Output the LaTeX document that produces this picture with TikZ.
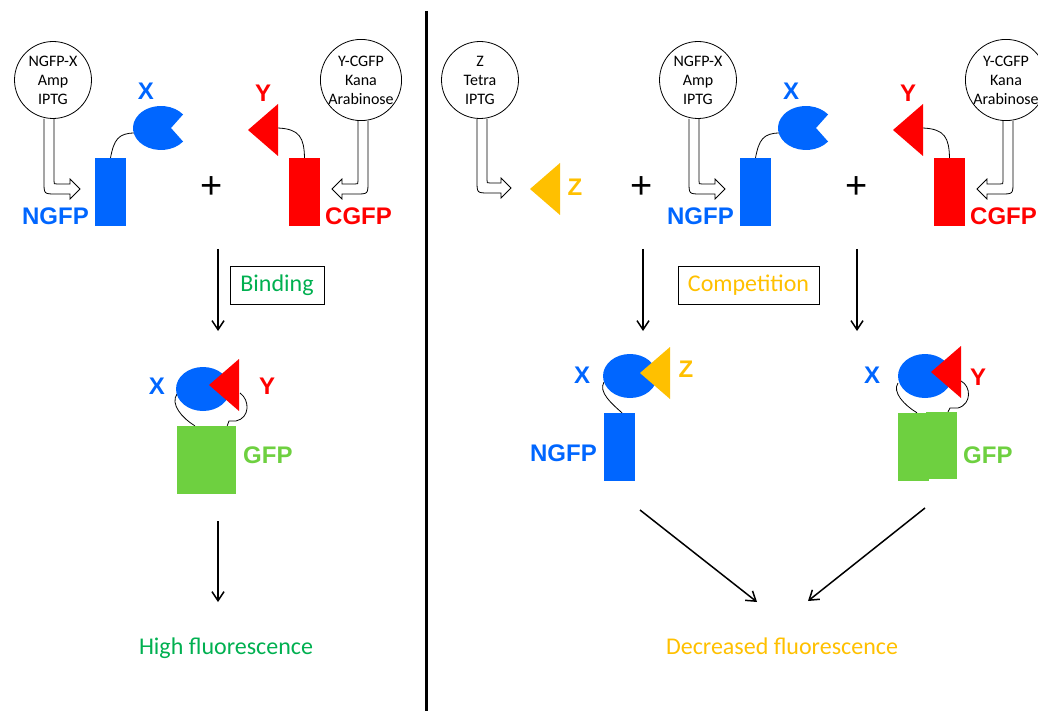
\documentclass[tikz,border=0pt]{standalone}
\usepackage{fontspec}
\setmainfont{Carlito}
\newfontfamily\tagfont{Liberation Sans}
\usepackage{xcolor}
\usepackage{tikz}
\usetikzlibrary{calc}
\usetikzlibrary{arrows.meta}
\definecolor{protblue}{RGB}{0,102,255}
\definecolor{protred}{RGB}{255,0,0}
\definecolor{protyellow}{RGB}{255,192,0}
\definecolor{gfpgreen}{RGB}{110,208,64}
\definecolor{textgreen}{RGB}{0,176,80}
\tikzset{ plasmid/.style = {circle, draw, line width=0.8pt, minimum size=77pt, inner sep=0pt, align=center, font=\fontsize{16}{19}\selectfont} }
\tikzset{ tag/.style = {inner sep=0pt, font=\tagfont\bfseries\fontsize{24}{28}\selectfont} }
\tikzset{ sum/.style = {inner sep=0pt, font=\tagfont\fontsize{38}{40}\selectfont} }
\tikzset{ half/.style = {rectangle, inner sep=0pt, minimum width=31pt, minimum height=68pt} }
\tikzset{ stage/.style = {rectangle, draw, line width=0.8pt, minimum height=38pt, font=\fontsize{24}{28}\selectfont} }
\tikzset{ tether/.style = {line width=0.8pt} }
\tikzset{ flow/.style = {->, line width=1.5pt} }
\tikzset{ >={Straight Barb[length=9pt,width=12pt]} }
\tikzset{ pacman/.pic = {\fill[protblue] (10,0) -- (22.06,13.55) arc[start angle=38, end angle=322, x radius=28, y radius=22] -- cycle;} }
\tikzset{ wedge/.pic = {\fill (0,0) -- (30,-26) -- (30,26) -- cycle;} }
\newcommand{\feedarrow}[3]{%
\draw[tether] let \p1=(#1), \p2=(#2) in
 ({\x1-(#3)*5pt},\y1) -- ({\x1-(#3)*5pt},{\y2+7pt})
 .. controls ({\x1-(#3)*5pt},{\y2-5pt}) .. ({\x1+(#3)*7pt},{\y2-5pt})
 -- ({\x2-(#3)*10pt},{\y2-5pt}) -- ({\x2-(#3)*10pt},{\y2-10pt}) -- (\x2,\y2)
 -- ({\x2-(#3)*10pt},{\y2+10pt}) -- ({\x2-(#3)*10pt},{\y2+5pt})
 -- ({\x1+(#3)*8pt},{\y2+5pt}) .. controls ({\x1+(#3)*5pt},{\y2+5pt}) .. ({\x1+(#3)*5pt},{\y2+8pt})
 -- ({\x1+(#3)*5pt},\y1);}

\begin{document}
\begin{tikzpicture}[x=1pt,y=-1pt]
\useasboundingbox (0,0) rectangle (1038,711);
\clip (0,0) rectangle (1038,711);

\draw[line width=3pt] (426,11) -- (426,711);

% binding
\node[plasmid] (pA) at (53,80) {NGFP-X\\Amp\\IPTG};
\node[plasmid] (pB) at (361,80) {Y-CGFP\\Kana\\Arabinose};
\coordinate (tA) at (80,189);
\coordinate (tB) at (332,189);
\feedarrow{$(pA.south)+(-4,0)$}{tA}{1}
\feedarrow{$(pB.south)+(2,0)$}{tB}{-1}
\node[half, fill=protblue] (nA) at (110.5,192) {};
\node[half, fill=protred] (cA) at (304.5,192) {};
\coordinate (xA) at (161,128);
\coordinate (yA) at (248,130);
\draw[tether] (nA.north) .. controls (114,140) and (118,133) .. ($(xA)+(-26,5)$);
\draw[tether] (cA.north) .. controls (304,138) and (300,129) .. ($(yA)+(30,-2)$);
\pic at (xA) {pacman};
\pic[protred] at (yA) {wedge};
\node[tag, protblue, anchor=base east] (lnA) at (89,225) {NGFP};
\node[tag, protred, anchor=base west] (lcA) at (325,225) {CGFP};
\node[tag, protblue] (lxA) at (146,91) {X};
\node[tag, protred] (lyA) at (263,93) {Y};
\node[sum] (plusA) at (212,188) {+};

\coordinate (aA1) at (218,249);
\coordinate (aA2) at (218,331);
\draw[flow] (aA1) -- (aA2);
\node[stage, text=textgreen, minimum width=94pt] (bind) at (277,285) {Binding};

\node[half, fill=gfpgreen, minimum width=59pt] (gA) at (206.5,460) {};
\coordinate (cxA) at (203,389);
\coordinate (cyA) at (209,385);
\draw[tether] ($(gA.north west)+(18,0)$) .. controls (182,418) and (170,404) .. (177,394);
\draw[tether] ($(gA.north east)+(-9,0)$) -- (229,421) -- (236,421) .. controls (250,418) and (250,400) .. (240,393);
\fill[protblue] (cxA) ellipse [x radius=27, y radius=22];
\pic[protred] at (cyA) {wedge};
\node[tag, protblue] (lxB) at (157,386) {X};
\node[tag, protred] (lyB) at (267,386) {Y};
\node[tag, gfpgreen, anchor=west] (lgA) at (243,455) {GFP};

\coordinate (aB1) at (218,521);
\coordinate (aB2) at (218,602);
\draw[flow] (aB1) -- (aB2);
\node[font=\fontsize{24}{28}\selectfont, text=textgreen, anchor=base] (high) at (226,654) {High fluorescence};

% competition
\node[plasmid] (pZ) at (480,80) {Z\\Tetra\\IPTG};
\node[plasmid] (pA2) at (698,80) {NGFP-X\\Amp\\IPTG};
\node[plasmid] (pB2) at (1006,80) {Y-CGFP\\Kana\\Arabinose};
\coordinate (tZ) at (511,188);
\coordinate (tA2) at (725,189);
\coordinate (tB2) at (977,189);
\feedarrow{$(pZ.south)+(2,0)$}{tZ}{1}
\feedarrow{$(pA2.south)+(-4,0)$}{tA2}{1}
\feedarrow{$(pB2.south)+(2,0)$}{tB2}{-1}

\coordinate (zA) at (530,189);
\pic[protyellow] at (zA) {wedge};
\node[tag, protyellow] (lzA) at (575,187) {Z};
\node[sum] (plusB) at (642,188) {+};

\node[half, fill=protblue] (nA2) at (755.5,192) {};
\node[half, fill=protred] (cA2) at (949.5,192) {};
\coordinate (xA2) at (806,128);
\coordinate (yA2) at (893,130);
\draw[tether] (nA2.north) .. controls (759,140) and (763,133) .. ($(xA2)+(-26,5)$);
\draw[tether] (cA2.north) .. controls (949,138) and (945,129) .. ($(yA2)+(30,-2)$);
\pic at (xA2) {pacman};
\pic[protred] at (yA2) {wedge};
\node[tag, protblue, anchor=base east] (lnA2) at (734,225) {NGFP};
\node[tag, protred, anchor=base west] (lcA2) at (970,225) {CGFP};
\node[tag, protblue] (lxA2) at (791,91) {X};
\node[tag, protred] (lyA2) at (908,93) {Y};
\node[sum] (plusC) at (857,188) {+};

\coordinate (aC1) at (643,249);
\coordinate (aC2) at (643,331);
\coordinate (aD1) at (857,249);
\coordinate (aD2) at (857,331);
\draw[flow] (aC1) -- (aC2);
\draw[flow] (aD1) -- (aD2);
\node[stage, text=protyellow, minimum width=141pt] (comp) at (748.5,285) {Competition};

\node[half, fill=protblue] (nZ) at (619.5,447) {};
\coordinate (cxZ) at (630,376);
\coordinate (czZ) at (640,373);
\draw[tether] ($(nZ.north)+(2.5,0)$) .. controls (612,404) and (598,392) .. (604,382);
\fill[protblue] (cxZ) ellipse [x radius=27, y radius=22];
\pic[protyellow] at (czZ) {wedge};
\node[tag, protblue] (lxZ) at (582,375) {X};
\node[tag, protyellow] (lzZ) at (686,369) {Z};
\node[tag, protblue, anchor=east] (lnZ) at (597,453) {NGFP};

\node[half, fill=gfpgreen] (gL) at (913.5,447) {};
\node[half, fill=gfpgreen, minimum height=67pt] (gR) at (941.5,445.5) {};
\coordinate (cxC) at (925,376);
\coordinate (cyC) at (931,372);
\draw[tether] ($(gL.north)+(3.5,0)$) .. controls (904,405) and (892,392) .. (898,383);
\draw[tether] ($(gR.north)+(6.5,0)$) -- (950,408) -- (958,408) .. controls (972,404) and (971,386) .. (961,381);
\fill[protblue] (cxC) ellipse [x radius=27, y radius=22];
\pic[protred] at (cyC) {wedge};
\node[tag, protblue] (lxC) at (872,375) {X};
\node[tag, protred] (lyC) at (978,377) {Y};
\node[tag, gfpgreen, anchor=west] (lgC) at (963,455) {GFP};

\coordinate (dL1) at (640,510);
\coordinate (dL2) at (757,602);
\coordinate (dR1) at (925,508);
\coordinate (dR2) at (808,601);
\draw[flow] (dL1) -- (dL2);
\draw[flow] (dR1) -- (dR2);
\node[font=\fontsize{24}{28}\selectfont, text=protyellow, anchor=base] (low) at (782,654) {Decreased fluorescence};
\end{tikzpicture}
\end{document}
